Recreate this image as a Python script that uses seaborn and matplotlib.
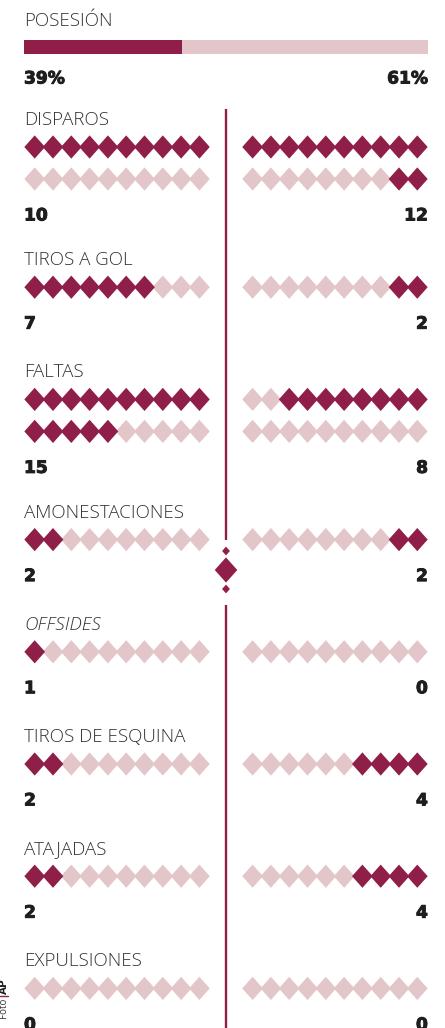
import matplotlib as mpl
mpl.use('Agg')
import matplotlib.pyplot as plt
import matplotlib.patheffects as pe
import seaborn as sns
import pandas as pd

# match stats, left team / right team
stats = ['DISPAROS', 'TIROS A GOL', 'FALTAS', 'AMONESTACIONES', 'OFFSIDES',
         'TIROS DE ESQUINA', 'ATAJADAS', 'EXPULSIONES']
left_vals = [10, 7, 15, 2, 1, 2, 2, 0]
right_vals = [12, 2, 8, 2, 0, 4, 4, 0]
possession = [39, 61]

DARK = '#8F1F49'
LIGHT = '#E3C6C9'
TXT = '#333333'
NUM = '#1e1e1e'

sns.set_theme(style='white')
plt.rcParams['font.family'] = ['Open Sans', 'DejaVu Sans']

# layout (pixel units, y grows downwards)
W, H = 445, 1028
X_L, X_R = 24, 428
MID = 226
STEP = 18.3
LX0 = 34.7
RX0 = X_R - 10.7 - 9 * STEP
PER_ROW = 10

fig = plt.figure(figsize=(W / 100, H / 100), dpi=100)
ax = fig.add_axes([0, 0, 1, 1])
ax.set_xlim(0, W)
ax.set_ylim(H, 0)
ax.axis('off')

title_kw = dict(fontsize=13.5, color=TXT, fontweight='light', va='baseline', ha='left')
num_kw = dict(fontsize=12.3, color=NUM, fontweight='bold', va='baseline',
              family=['DejaVu Sans'],
              path_effects=[pe.withStroke(linewidth=0.7, foreground=NUM)])

# possession bar
ax.text(X_L, 26, 'POSESIÓN', **title_kw)
scale = (X_R - X_L) / 100
ax.barh([47], [possession[0] * scale], left=X_L, height=14, color=DARK, linewidth=0)
ax.barh([47], [possession[1] * scale], left=X_L + possession[0] * scale, height=14,
        color=LIGHT, linewidth=0)
ax.text(X_L, 83.5, '{}%'.format(possession[0]), ha='left', **num_kw)
ax.text(X_R, 83.5, '{}%'.format(possession[1]), ha='right', **num_kw)

# build diamond table
rows = []
top = 118
section_tops = []
for name, lv, rv in zip(stats, left_vals, right_vals):
    nrows = max(1, -(-max(lv, rv) // PER_ROW))
    section_tops.append((name, lv, rv, top, nrows))
    for r in range(nrows):
        y = top + 29 + r * 32
        for i in range(PER_ROW):
            k = r * PER_ROW + i
            # left team fills from the left
            rows.append({'x': LX0 + i * STEP, 'y': y,
                         'state': 'on' if k < lv else 'off'})
            # right team fills from the right
            rows.append({'x': RX0 + (PER_ROW - 1 - i) * STEP, 'y': y,
                         'state': 'on' if k < rv else 'off'})
    top += 112.2 + 28 * (nrows - 1)

df = pd.DataFrame(rows)
df = pd.concat([df[df.state == 'off'], df[df.state == 'on']])

diamond = [(-1, 0), (0, 1.12), (1, 0), (0, -1.12), (-1, 0)]
sns.scatterplot(data=df, x='x', y='y', hue='state', palette={'on': DARK, 'off': LIGHT},
                marker=diamond, s=280, linewidth=0, legend=False, ax=ax)

for name, lv, rv, t, nrows in section_tops:
    kw = dict(title_kw)
    if name == 'OFFSIDES':
        kw['fontstyle'] = 'italic'
    ax.text(X_L, t + 7, name, **kw)
    ny = t + 29 + (nrows - 1) * 32 + 35 + 6.5
    ax.text(X_L, ny, str(lv), ha='left', **num_kw)
    ax.text(X_R, ny, str(rv), ha='right', **num_kw)

# center divider with ornament
ax.plot([MID, MID], [109, 540], color=DARK, lw=1.7, solid_capstyle='butt')
ax.plot([MID, MID], [605, H], color=DARK, lw=1.7, solid_capstyle='butt')
orn = pd.DataFrame({'x': [MID, MID, MID], 'y': [551, 570, 589], 's': [40, 330, 40]})
ax.scatter(orn.x, orn.y, s=orn.s, marker=diamond, color=DARK, linewidths=0)

# photo credit
ax.text(4, 997.5, 'Foto', rotation=90, fontsize=7, color=TXT, ha='center', va='top')
ax.plot([0, 8], [995.5, 995.5], color=DARK, lw=1)
ax.text(4, 994, 'AP', rotation=90, fontsize=7.5, color=NUM, fontweight='bold',
        ha='center', va='bottom', family=['DejaVu Sans'])

fig.savefig('out.png', dpi=100)
